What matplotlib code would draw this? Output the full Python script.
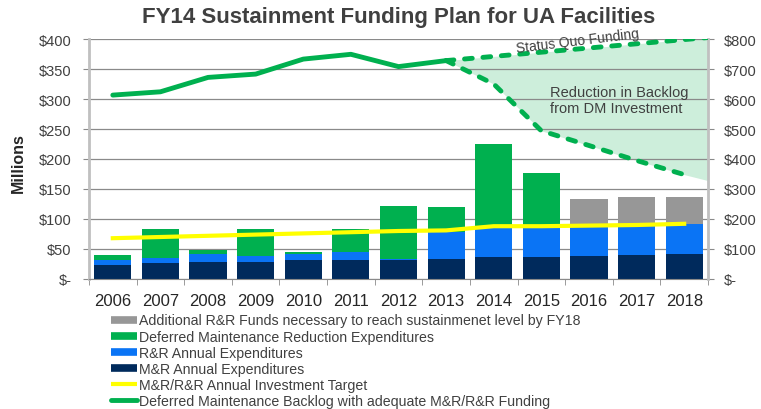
import numpy as np
import matplotlib
matplotlib.use('Agg')
from matplotlib import pyplot as plt
from matplotlib.lines import Line2D

plt.rcParams['font.family'] = ['Liberation Sans', 'DejaVu Sans']

years = np.arange(2006, 2019)

# stacked bar segments, $ millions (left axis)
mr_exp = [23, 27, 29, 28, 32, 32, 32, 33, 37, 37, 39, 40, 42]
rr_exp = [9, 8, 12, 10, 9, 13, 1, 46, 49, 50, 48, 48, 50]
dm_exp = [8, 49, 7, 46, 4, 38, 89, 41, 139, 90, 0, 0, 0]
rr_add = [0, 0, 0, 0, 0, 0, 0, 0, 0, 0, 47, 48, 45]

# annual investment target (left axis)
target = [68, 70, 72, 74, 76, 78, 80, 81, 88, 88, 89, 90, 92]

# deferred maintenance backlog (right axis)
backlog_years = [2006, 2007, 2008, 2009, 2010, 2011, 2012, 2013]
backlog = [613, 624, 672, 683, 733, 749, 708, 728]
status_quo_years = [2013, 2018.5]
status_quo = [728, 805]
reduced_years = [2013, 2014, 2015, 2016, 2017, 2018]
reduced = [728, 650, 494, 445, 395, 348]
fill_years = [2013, 2014, 2015, 2016, 2017, 2018, 2018.5]
fill_low = [728, 650, 494, 445, 395, 348, 328]

left_ticks = [0, 50, 100, 150, 200, 250, 300, 350, 400]
right_ticks = [0, 100, 200, 300, 400, 500, 600, 700, 800]

labels = ['Additional R&R Funds necessary to reach sustainmenet level by FY18',
          'Deferred Maintenance Reduction Expenditures',
          'R&R Annual Expenditures',
          'M&R Annual Expenditures',
          'M&R/R&R Annual Investment Target',
          'Deferred Maintenance Backlog with adequate M&R/R&R Funding']

c_navy = '#002a5c'
c_blue = '#0a74f5'
c_green = '#00b04f'
c_gray = '#979797'
c_yel = '#ffff00'
c_fill = '#cdeedb'
c_text = '#404040'

fig = plt.figure(figsize=(7.61, 4.10), dpi=100)
ax = fig.add_axes([89/761, 1-280/410, (708-89)/761, 240/410])
ax2 = ax.twinx()

w = 0.78
b1 = np.array(mr_exp)
b2 = b1 + np.array(rr_exp)
b3 = b2 + np.array(dm_exp)
ax.bar(years, mr_exp, w, color=c_navy, zorder=2)
ax.bar(years, rr_exp, w, bottom=b1, color=c_blue, zorder=2)
ax.bar(years, dm_exp, w, bottom=b2, color=c_green, zorder=2)
ax.bar(years, rr_add, w, bottom=b3, color=c_gray, zorder=2)
ax.plot(years, target, color=c_yel, lw=3, zorder=3)

ax.set_xlim(2005.5, 2018.5)
ax.set_ylim(0, 400)
ax.set_yticks(left_ticks)
ax.set_yticklabels(['$-' if v == 0 else '${}'.format(v) for v in left_ticks])
ax.yaxis.grid(True, color='#8a8a8a', lw=0.9, zorder=0)
ax.set_axisbelow(True)
ax.set_xticks(years)
ax.set_xticklabels([str(y) for y in years], fontsize=12, color='#262626')
ax.set_xticks(np.arange(2005.5, 2019, 1), minor=True)
ax.tick_params(axis='x', which='major', length=0, pad=10)
ax.tick_params(axis='x', which='minor', length=4.5, color='#8a8a8a')
ax.tick_params(axis='y', length=4.5, color='#8a8a8a', labelsize=10.5,
               labelcolor=c_text, pad=8)
ax.spines['top'].set_visible(False)
ax.spines['right'].set_visible(False)
ax.spines['left'].set_color('#c0c0c0')
ax.spines['left'].set_linewidth(2)
ax.spines['bottom'].set_color('#8a8a8a')

ax2.set_ylim(0, 800)
ax2.set_yticks(right_ticks)
ax2.set_yticklabels(['$-' if v == 0 else '${}'.format(v) for v in right_ticks])
ax2.tick_params(axis='y', length=4.5, color='#8a8a8a', labelsize=10.5,
                labelcolor=c_text, pad=7)
for s in ['top', 'left', 'bottom']:
    ax2.spines[s].set_visible(False)
ax2.spines['right'].set_color('#c0c0c0')
ax2.spines['right'].set_linewidth(2)

# shaded gap drawn in the lower axes so the gridlines stay on top of it
sq_fill = np.interp(fill_years, status_quo_years, status_quo)
ax.fill_between(fill_years, fill_low, sq_fill, color=c_fill, lw=0,
                zorder=0.3, transform=ax2.transData)
ax2.plot(backlog_years, backlog, color=c_green, lw=3.5, zorder=3,
         solid_capstyle='round')
ax2.plot(status_quo_years, status_quo, color=c_green, lw=3.5,
         dashes=(1.6, 2.2), dash_capstyle='round', zorder=3)
ax2.plot(reduced_years, reduced, color=c_green, lw=3.5,
         dashes=(1.6, 2.2), dash_capstyle='round', zorder=3)

ax2.text(2015.77, 795, 'Status Quo Funding', rotation=7, ha='center',
         va='center', fontsize=10, color=c_text)
ax2.text(2015.18, 597, 'Reduction in Backlog\nfrom DM Investment',
         ha='left', va='center', fontsize=10.5, color=c_text, linespacing=1.15)

fig.text(399/761, 1-17/410, 'FY14 Sustainment Funding Plan for UA Facilities',
         ha='center', va='center', fontsize=16, fontweight='bold', color=c_text)
fig.text(18/761, 1-163/410, 'Millions', rotation=90, ha='center', va='center',
         fontsize=11.5, fontweight='bold', color='#262626')

handles = [Line2D([], [], color=c_gray, lw=5.5, solid_capstyle='butt'),
           Line2D([], [], color=c_green, lw=5.5, solid_capstyle='butt'),
           Line2D([], [], color=c_blue, lw=5.5, solid_capstyle='butt'),
           Line2D([], [], color=c_navy, lw=5.5, solid_capstyle='butt'),
           Line2D([], [], color=c_yel, lw=3, solid_capstyle='butt'),
           Line2D([], [], color=c_green, lw=3.5, solid_capstyle='round')]
leg = fig.legend(handles, labels, loc='upper left',
                 bbox_to_anchor=(111/761, 1-314.5/410), frameon=False,
                 fontsize=10.2, handlelength=1.8, handletextpad=0.2,
                 labelspacing=0.15, borderpad=0, borderaxespad=0)
for t in leg.get_texts():
    t.set_color(c_text)

fig.savefig('out.png', dpi=100)
